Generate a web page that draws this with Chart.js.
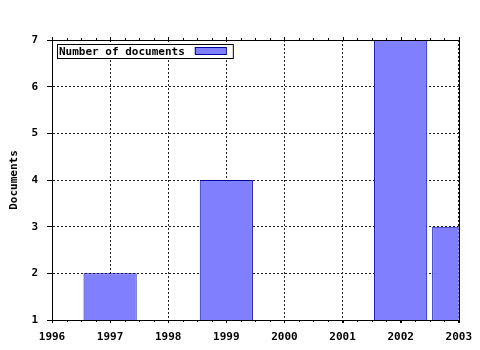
<!DOCTYPE html>
<html>
<head>
<meta charset="utf-8">
<script src="https://cdn.jsdelivr.net/npm/chart.js@4"></script>
<style>
  body { margin: 0; background: #fff; }
  #wrap { width: 480px; height: 350px; }
</style>
</head>
<body>
<div id="wrap"><canvas id="chart" width="480" height="350"></canvas></div>
<script>
// values
const years = [1997, 1999, 2002, 2003];
const docs = [2, 4, 7, 3];
const seriesName = 'Number of documents';

const monoFont = { family: '"DejaVu Sans Mono", monospace', size: 11, weight: 'bold' };

// gnuplot-ish frame, minor ticks and the boxed key
const framePlugin = {
  id: 'frame',
  afterDraw(chart) {
    const { ctx, chartArea: a, scales } = chart;
    ctx.save();
    ctx.strokeStyle = '#000';
    ctx.lineWidth = 1;
    ctx.strokeRect(Math.round(a.left) + 0.5, Math.round(a.top) + 0.5,
      Math.round(a.right - a.left), Math.round(a.bottom - a.top));

    // minor ticks on x (quarter years), bottom and top
    const x = scales.x;
    ctx.beginPath();
    for (let v = x.min; v <= x.max + 0.001; v += 0.25) {
      const px = Math.round(x.getPixelForValue(v)) + 0.5;
      const major = Math.abs(v - Math.round(v)) < 0.001;
      ctx.moveTo(px, a.bottom);
      ctx.lineTo(px, a.bottom + (major ? 3 : 2));
      ctx.moveTo(px, a.top);
      ctx.lineTo(px, a.top - (major ? 3 : 2));
    }
    ctx.stroke();

    // key
    const ds = chart.data.datasets[0];
    ctx.font = 'bold 11px "DejaVu Sans Mono", monospace';
    const tw = ctx.measureText(ds.label).width;
    const bx = Math.round(a.left) + 5, by = Math.round(a.top) + 4;
    const bw = tw + 50, bh = 14;
    ctx.fillStyle = '#fff';
    ctx.fillRect(bx, by, bw, bh);
    ctx.strokeRect(bx + 0.5, by + 0.5, bw, bh);
    ctx.fillStyle = '#000';
    ctx.textBaseline = 'middle';
    ctx.fillText(ds.label, bx + 2, by + bh / 2 + 1);
    const sx = bx + tw + 12;
    ctx.fillStyle = ds.backgroundColor;
    ctx.fillRect(sx, by + 3, 31, 7);
    ctx.strokeStyle = ds.borderColor;
    ctx.strokeRect(sx + 0.5, by + 3.5, 31, 7);
    ctx.restore();
  }
};

new Chart(document.getElementById('chart'), {
  type: 'bar',
  data: {
    datasets: [{
      label: seriesName,
      data: years.map((y, i) => ({ x: y, y: docs[i] })),
      backgroundColor: '#8080ff',
      borderColor: '#0000a0',
      borderWidth: 1,
      borderSkipped: false,
      barPercentage: 0.915,
      categoryPercentage: 1
    }]
  },
  options: {
    responsive: false,
    animation: false,
    layout: { padding: { left: 0, right: 20, top: 40, bottom: 0 } },
    plugins: {
      legend: { display: false },
      tooltip: { enabled: false }
    },
    scales: {
      x: {
        type: 'linear',
        min: 1996,
        max: 2003,
        offset: false,
        grid: { offset: false, color: '#222', tickColor: '#000', tickLength: 3 },
        border: { color: '#000', dash: [2, 2] },
        ticks: {
          stepSize: 1,
          padding: 8,
          color: '#000',
          font: monoFont,
          maxRotation: 0,
          callback: v => String(v)
        },
        afterFit(scale) { scale.height = 30; }
      },
      y: {
        min: 1,
        max: 7,
        grid: { color: '#222', tickColor: '#000', tickLength: 5 },
        border: { color: '#000', dash: [2, 2] },
        ticks: { stepSize: 1, padding: 9, color: '#000', font: monoFont },
        title: {
          display: true,
          text: 'Documents',
          color: '#000',
          font: monoFont,
          padding: { top: 8, bottom: 0 }
        },
        afterFit(scale) { scale.width = 52; }
      }
    }
  },
  plugins: [framePlugin]
});
</script>
</body>
</html>
